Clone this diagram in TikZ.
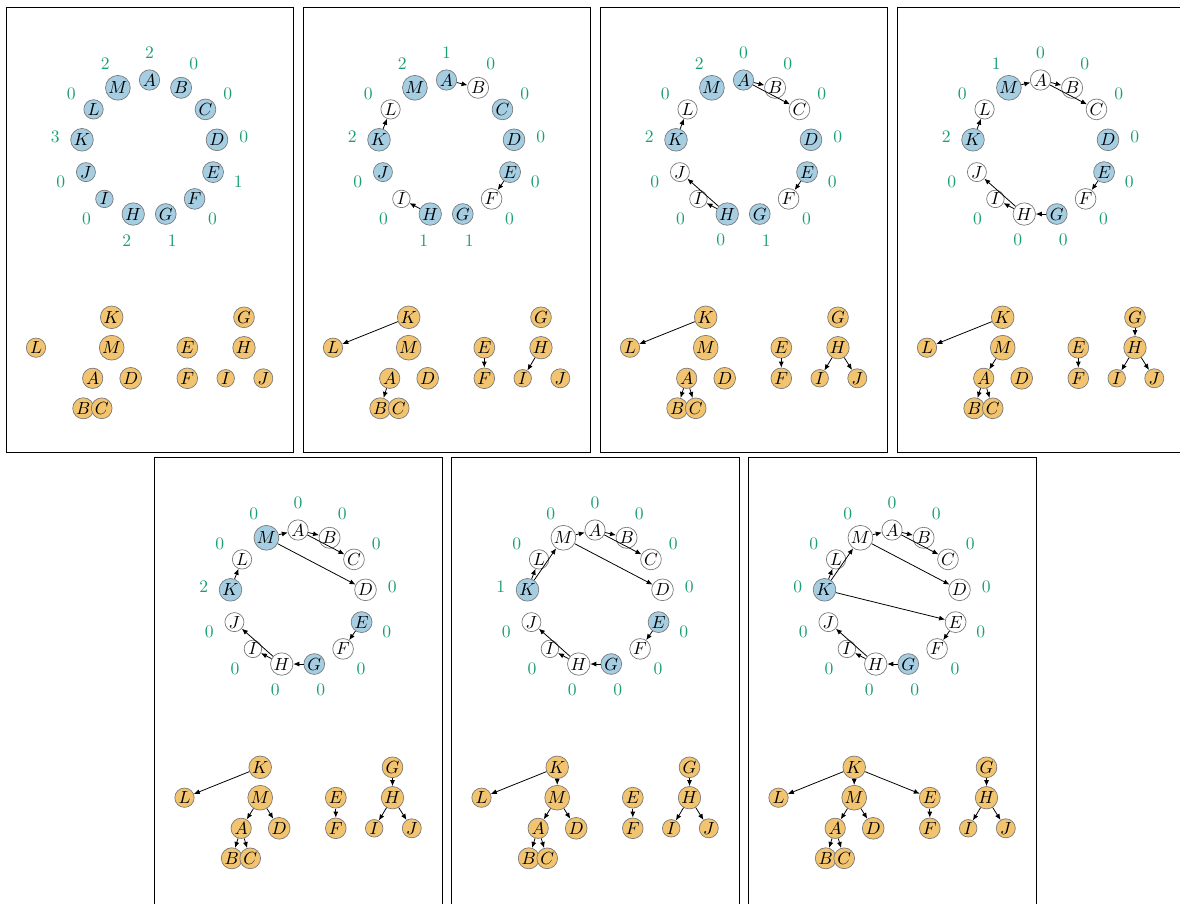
\documentclass[tikz,border=0pt]{standalone}
\usepackage{tikz}
\usetikzlibrary{arrows.meta,positioning}
\definecolor{Ring}{HTML}{A6CEE3}
\definecolor{Tree}{HTML}{F2C46F}
\definecolor{Rim}{HTML}{7A7A7A}
\definecolor{Count}{HTML}{1B9E77}
\tikzset{
  live/.style={circle,draw=Rim,fill=Ring,line width=.4pt,inner sep=.5pt},
  done/.style={circle,draw=Rim,fill=white,line width=.4pt,inner sep=.5pt},
  tree/.style={circle,draw=Rim,fill=Tree,line width=.4pt,inner sep=.5pt},
  count/.style={text=Count,inner sep=0pt},
  link/.style={-{Latex[length=1.2mm,width=1mm]},line width=.45pt},
  frame/.style={draw=black,line width=.5pt}
}
% forest slots, relative to the panel corner
\newcommand{\treeslots}{K/105.7/310.3,L/30/340.7,M/105.7/340.7,A/86.7/371.3,D/124.7/371.3,B/77.3/401.3,C/95.7/401.3,E/181.3/340.7,F/181.3/371.3,G/238/310.3,H/238/340.7,I/219.7/371.3,J/257.3/371.3}
\newcommand{\frameh}{445}
% #1 id, #2 corner, #3 letter/state/count, #4 links
\newcommand{\ufpanel}[4]{%
  \begin{scope}[shift={(#2)}]
    \draw[frame] (0,0) rectangle (287.5,\frameh);
    \begin{scope}[shift={(143.5,141)}]
      \foreach \v/\st/\cnt [count=\k from 0] in {#3} {
        \node[\st] (r#1\v) at ({-90+\k*360/13}:68) {$\v$};
        \node[count] (n#1\v) at ({-90+\k*360/13}:95) {\cnt};
      }
    \end{scope}
    \foreach \v/\x/\y in \treeslots
      \node[tree] (f#1\v) at (\x,\y) {$\v$};
    \foreach \a/\b in {#4} {
      \draw[link] (r#1\a) -- (r#1\b);
      \draw[link] (f#1\a) -- (f#1\b);
    }
  \end{scope}}
\begin{document}
\begin{tikzpicture}[x=.02cm,y=-.02cm]
  \useasboundingbox (0,0) rectangle (1180,903);
  \clip (0,0) rectangle (1180,903);
  \ufpanel{1}{6,7}{A/live/2,B/live/0,C/live/0,D/live/0,E/live/1,F/live/0,G/live/1,H/live/2,I/live/0,J/live/0,K/live/3,L/live/0,M/live/2}{}
  \ufpanel{2}{303,7}{A/live/1,B/done/0,C/live/0,D/live/0,E/live/0,F/done/0,G/live/1,H/live/1,I/done/0,J/live/0,K/live/2,L/done/0,M/live/2}{A/B,K/L,E/F,H/I}
  \ufpanel{3}{600,7}{A/live/0,B/done/0,C/done/0,D/live/0,E/live/0,F/done/0,G/live/1,H/live/0,I/done/0,J/done/0,K/live/2,L/done/0,M/live/2}{A/B,A/C,K/L,E/F,H/I,H/J}
  \ufpanel{4}{897,7}{A/done/0,B/done/0,C/done/0,D/live/0,E/live/0,F/done/0,G/live/0,H/done/0,I/done/0,J/done/0,K/live/2,L/done/0,M/live/1}{A/B,A/C,M/A,K/L,E/F,H/I,H/J,G/H}
  % lower row runs past the bottom edge
  \renewcommand{\frameh}{470}
  \ufpanel{5}{154.5,457}{A/done/0,B/done/0,C/done/0,D/done/0,E/live/0,F/done/0,G/live/0,H/done/0,I/done/0,J/done/0,K/live/2,L/done/0,M/live/0}{A/B,A/C,M/A,M/D,K/L,E/F,H/I,H/J,G/H}
  \ufpanel{6}{451.5,457}{A/done/0,B/done/0,C/done/0,D/done/0,E/live/0,F/done/0,G/live/0,H/done/0,I/done/0,J/done/0,K/live/1,L/done/0,M/done/0}{A/B,A/C,M/A,M/D,K/L,K/M,E/F,H/I,H/J,G/H}
  \ufpanel{7}{748.5,457}{A/done/0,B/done/0,C/done/0,D/done/0,E/done/0,F/done/0,G/live/0,H/done/0,I/done/0,J/done/0,K/live/0,L/done/0,M/done/0}{A/B,A/C,M/A,M/D,K/L,K/M,K/E,E/F,H/I,H/J,G/H}
\end{tikzpicture}
\end{document}
